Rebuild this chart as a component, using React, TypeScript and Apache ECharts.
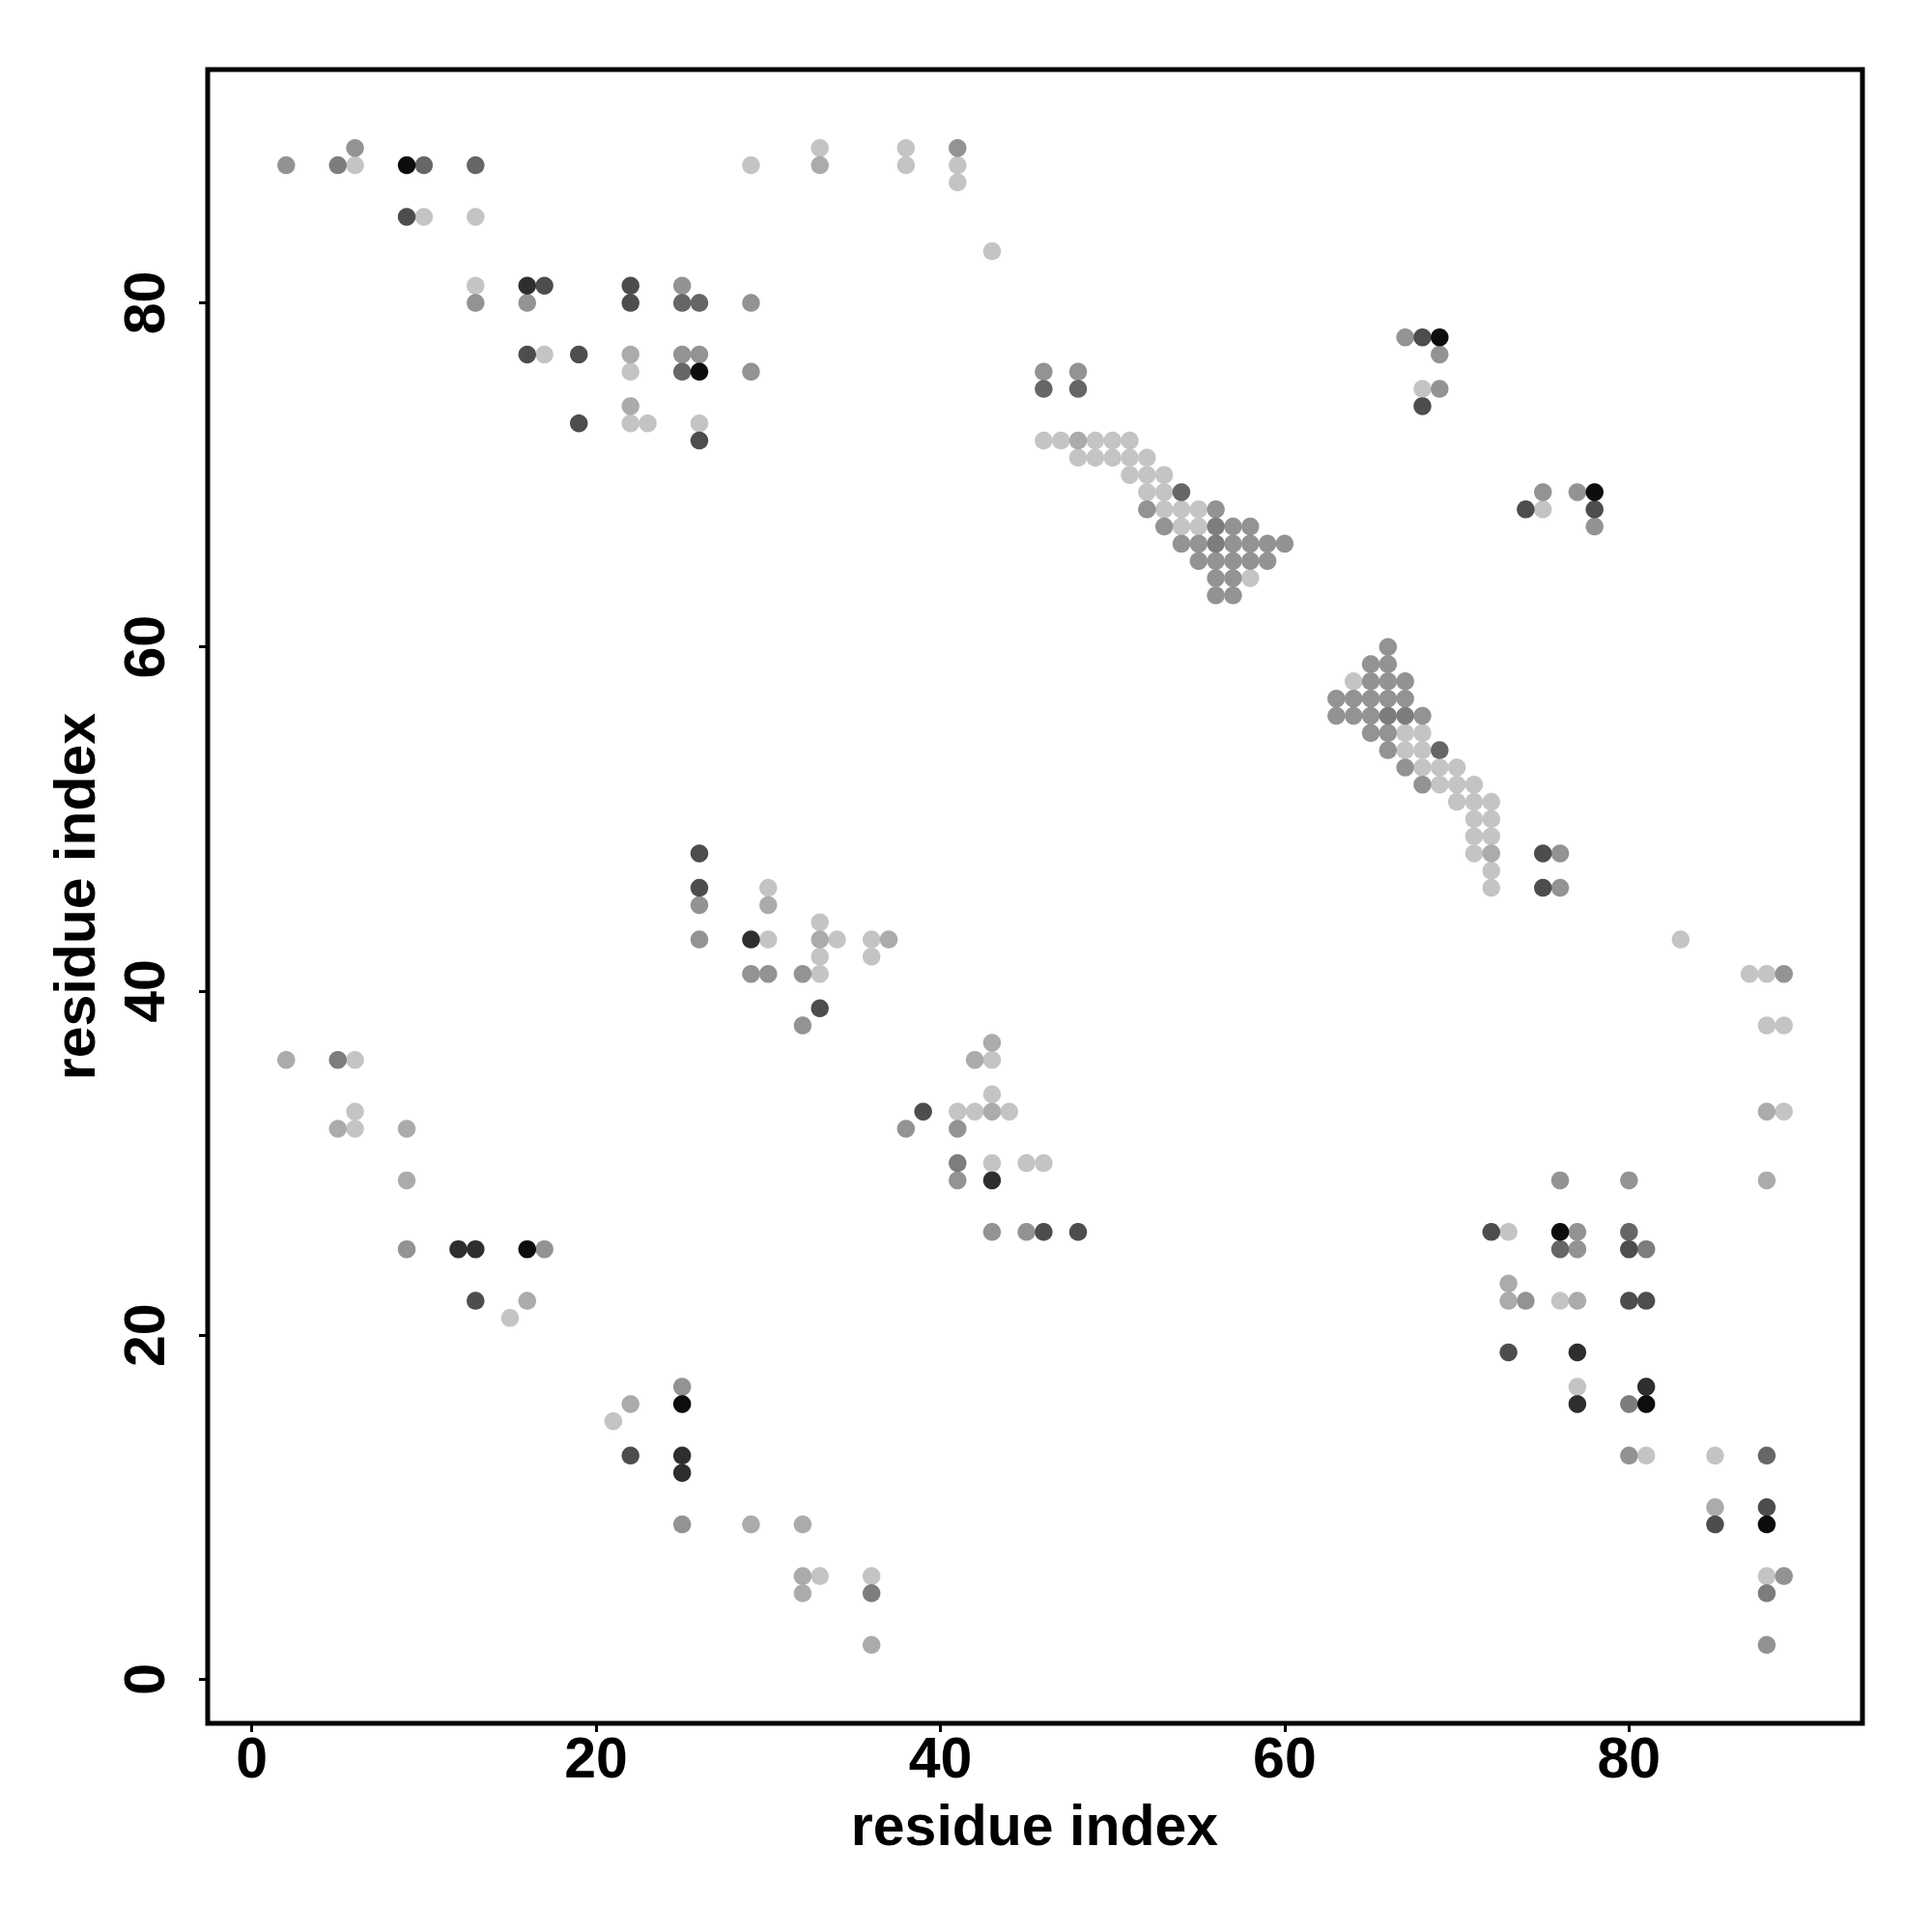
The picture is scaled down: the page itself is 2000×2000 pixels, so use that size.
import React, { useEffect, useRef } from "react";
import * as echarts from "echarts";

// Axis range and ticks (both axes: residue index)
const axisMin = -2.56;
const axisMax = 93.56;
const tickValues = [0, 20, 40, 60, 80];
const xTitle = "residue index";
const yTitle = "residue index";

// Contact points [x, y] grouped by grey level
const blackPts = [[9,88],[26,76],[69,78],[78,69],[16,25],[25,16],[76,26],[81,16],[88,9]];
const veryDarkPts = [[16,81],[29,43],[43,29],[12,25],[13,25],[25,13],[25,12],[77,19],[77,16],[81,17]];
const darkPts = [[9,85],[17,81],[22,81],[22,80],[16,77],[19,77],[19,73],[26,72],[68,78],[68,74],[74,68],[78,68],[75,48],[75,46],[26,48],[26,46],[33,39],[39,33],[46,26],[48,26],[13,22],[22,13],[72,26],[80,25],[80,22],[81,22],[73,19],[88,10],[85,9]];
const midDarkPts = [[10,88],[13,88],[25,80],[26,80],[25,76],[46,75],[48,75],[54,69],[69,54],[76,25],[80,26],[88,13]];
const midPts = [[5,88],[56,67],[56,66],[66,56],[67,56],[41,30],[5,36],[36,5],[81,25],[80,16],[88,5]];
const greyPts = [[2,88],[6,89],[13,80],[16,80],[25,81],[29,80],[25,77],[26,77],[29,76],[41,89],[46,76],[48,76],
  [52,68],[56,68],[53,67],[57,67],[58,67],[54,66],[55,66],[57,66],[58,66],[59,66],[60,66],[55,65],[56,65],[57,65],[58,65],[59,65],[56,64],[57,64],[56,63],[57,63],
  [66,60],[65,59],[66,59],[65,58],[66,58],[67,58],[63,57],[64,57],[65,57],[66,57],[67,57],[63,56],[64,56],[65,56],[68,56],[65,55],[66,55],[66,54],[67,53],[68,52],[76,48],[76,46],
  [67,78],[69,77],[69,75],[75,69],[77,69],[78,67],
  [26,45],[26,43],[29,41],[30,41],[32,41],[32,38],[38,32],[41,32],[41,29],[43,26],[45,26],
  [9,25],[17,25],[25,17],[25,9],
  [76,29],[80,29],[77,26],[77,25],[74,22],[80,13],
  [89,41],[89,6],[88,2]];
const lightMidPts = [[33,88],[22,77],[22,74],[48,72],[72,48],[30,45],[33,43],[37,43],[43,37],[42,36],[43,33],[2,36],[5,32],[9,32],[9,29],[16,22],[22,16],[29,9],[32,9],[32,6],[32,5],[36,2],[73,23],[73,22],[77,22],[88,33],[88,29],[85,10]];
const lightPts = [[6,88],[29,88],[10,85],[13,85],[13,81],[17,77],[22,76],[22,73],[23,73],[26,73],[33,89],[38,89],[38,88],[41,88],[41,87],[43,83],
  [46,72],[47,72],[49,72],[50,72],[51,72],[48,71],[49,71],[50,71],[51,71],[52,71],[51,70],[52,70],[53,70],[52,69],[53,69],[53,68],[54,68],[55,68],[54,67],[55,67],[58,64],
  [64,58],[67,55],[68,55],[67,54],[68,54],[68,53],[69,53],[70,53],[69,52],[70,52],[71,52],[70,51],[71,51],[72,51],[71,50],[72,50],[71,49],[72,49],[71,48],[72,47],[72,46],
  [68,75],[75,68],
  [30,46],[30,43],[33,41],[33,44],[34,43],[33,42],[36,43],[36,42],
  [43,36],[43,34],[41,33],[42,33],[44,33],[43,30],[45,30],[46,30],
  [6,36],[6,33],[6,32],[15,21],[21,15],[33,6],[36,6],
  [73,26],[76,22],[77,17],[81,13],
  [83,43],[87,41],[88,41],[88,38],[89,38],[89,33],[85,13],[88,6]];

const groups: [number[][], string][] = [
  [lightPts, "#c4c4c4"],
  [lightMidPts, "#ababab"],
  [greyPts, "#939393"],
  [midPts, "#7d7d7d"],
  [midDarkPts, "#666666"],
  [darkPts, "#4d4d4d"],
  [veryDarkPts, "#2e2e2e"],
  [blackPts, "#0d0d0d"],
];

const FONT = "'Liberation Sans', Arial, Helvetica, sans-serif";

export default function App() {
  const ref = useRef<HTMLDivElement>(null);
  useEffect(() => {
    if (!ref.current) return;
    const chart = echarts.init(ref.current, null, { renderer: "svg" });
    const axisCommon = (isX: boolean) => ({
      type: "value",
      min: axisMin,
      max: axisMax,
      axisLine: { show: false, onZero: false },
      splitLine: { show: false },
      axisTick: {
        show: true,
        customValues: tickValues,
        length: 9,
        lineStyle: { color: "#000", width: 3 },
      },
      axisLabel: {
        show: true,
        customValues: tickValues,
        fontFamily: FONT,
        fontWeight: "bold",
        fontSize: 59,
        color: "#000",
        margin: isX ? 6 : 36,
        rotate: isX ? 0 : 90,
        showMinLabel: true,
        showMaxLabel: true,
      },
    });
    chart.setOption({
      animation: false,
      backgroundColor: "#ffffff",
      grid: {
        show: true,
        left: 215,
        top: 72,
        right: 72,
        bottom: 216,
        borderColor: "#000",
        borderWidth: 5,
        backgroundColor: "transparent",
        containLabel: false,
      },
      xAxis: axisCommon(true),
      yAxis: axisCommon(false),
      series: groups.map(([pts, color]) => ({
        type: "scatter",
        data: pts,
        symbol: "circle",
        symbolSize: 18.5,
        itemStyle: { color, opacity: 1 },
        silent: true,
      })),
      graphic: [
        {
          type: "text",
          x: 1071,
          y: 1890,
          style: {
            text: xTitle,
            font: `bold 59px ${FONT}`,
            fill: "#000",
            align: "center",
            verticalAlign: "middle",
            textAlign: "center",
            textVerticalAlign: "middle",
          },
        },
        {
          type: "text",
          x: 78,
          y: 928,
          rotation: Math.PI / 2,
          style: {
            text: yTitle,
            font: `bold 59px ${FONT}`,
            fill: "#000",
            align: "center",
            verticalAlign: "middle",
            textAlign: "center",
            textVerticalAlign: "middle",
          },
        },
      ],
    });
    return () => chart.dispose();
  }, []);
  return (
    <div
      ref={ref}
      style={{ position: "absolute", left: 0, top: 0, width: 2000, height: 2000, background: "#fff" }}
    />
  );
}
